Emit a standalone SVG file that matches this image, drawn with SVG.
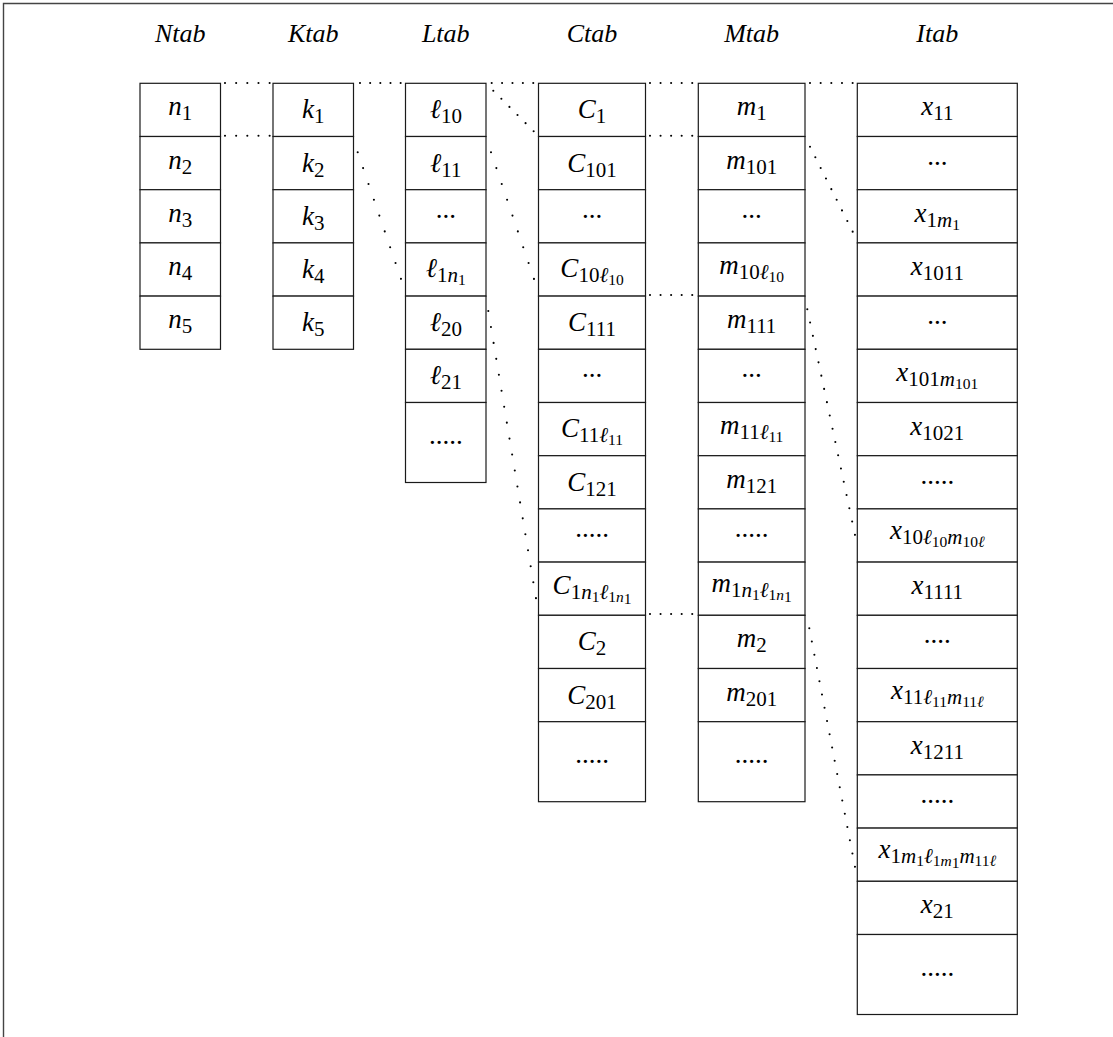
<svg xmlns="http://www.w3.org/2000/svg" width="1113" height="1037" viewBox="0 0 1113 1037">
<style>
.cell{fill:#fff;stroke:#1a1a1a;stroke-width:1.2}
.lb{font-family:"Liberation Serif","DejaVu Serif",serif;font-size:27px;font-style:italic;text-anchor:middle;fill:#000}
.dt{font-family:"Liberation Serif","DejaVu Serif",serif;font-size:27px;text-anchor:middle;fill:#000}
.hd{font-family:"Liberation Serif","DejaVu Serif",serif;font-size:26px;font-style:italic;text-anchor:middle;fill:#000}
.d{font-style:normal}
.s1{font-size:21px}
.s2{font-size:15.5px}
.dots{fill:none;stroke:#000;stroke-width:2.1;stroke-linecap:round}
.frame{stroke:#444;stroke-width:1.4;fill:none}
</style>
<rect width="1113" height="1037" fill="#fff"/>
<path class="frame" d="M3.5,1037 V3.5 H1113"/>
<g id="headers">
<text class="hd" x="180.25" y="42">Ntab</text>
<text class="hd" x="313.25" y="42">Ktab</text>
<text class="hd" x="445.75" y="42">Ltab</text>
<text class="hd" x="592" y="42">Ctab</text>
<text class="hd" x="751.65" y="42">Mtab</text>
<text class="hd" x="937.3" y="42">Itab</text>
</g>
<g id="Ntab">
<g id="n1"><rect class="cell" x="140" y="83.3" width="80.5" height="53.2"/><text class="lb" x="180.25" y="115.3">n<tspan class="d s1" dy="5">1</tspan></text></g>
<g id="n2"><rect class="cell" x="140" y="136.5" width="80.5" height="53.2"/><text class="lb" x="180.25" y="168.5">n<tspan class="d s1" dy="5">2</tspan></text></g>
<g id="n3"><rect class="cell" x="140" y="189.7" width="80.5" height="53.2"/><text class="lb" x="180.25" y="221.7">n<tspan class="d s1" dy="5">3</tspan></text></g>
<g id="n4"><rect class="cell" x="140" y="242.9" width="80.5" height="53.2"/><text class="lb" x="180.25" y="274.9">n<tspan class="d s1" dy="5">4</tspan></text></g>
<g id="n5"><rect class="cell" x="140" y="296.1" width="80.5" height="53.2"/><text class="lb" x="180.25" y="328.1">n<tspan class="d s1" dy="5">5</tspan></text></g>
</g>
<g id="Ktab">
<g id="k1"><rect class="cell" x="273" y="83.3" width="80.5" height="53.2"/><text class="lb" x="313.25" y="118.3">k<tspan class="d s1" dy="5">1</tspan></text></g>
<g id="k2"><rect class="cell" x="273" y="136.5" width="80.5" height="53.2"/><text class="lb" x="313.25" y="171.5">k<tspan class="d s1" dy="5">2</tspan></text></g>
<g id="k3"><rect class="cell" x="273" y="189.7" width="80.5" height="53.2"/><text class="lb" x="313.25" y="224.7">k<tspan class="d s1" dy="5">3</tspan></text></g>
<g id="k4"><rect class="cell" x="273" y="242.9" width="80.5" height="53.2"/><text class="lb" x="313.25" y="277.9">k<tspan class="d s1" dy="5">4</tspan></text></g>
<g id="k5"><rect class="cell" x="273" y="296.1" width="80.5" height="53.2"/><text class="lb" x="313.25" y="331.1">k<tspan class="d s1" dy="5">5</tspan></text></g>
</g>
<g id="Ltab">
<g id="l10"><rect class="cell" x="405.5" y="83.3" width="80.5" height="53.2"/><text class="lb" x="445.75" y="118.3">ℓ<tspan class="d s1" dy="5">10</tspan></text></g>
<g id="l11"><rect class="cell" x="405.5" y="136.5" width="80.5" height="53.2"/><text class="lb" x="445.75" y="171.5">ℓ<tspan class="d s1" dy="5">11</tspan></text></g>
<g id="l-dots1"><rect class="cell" x="405.5" y="189.7" width="80.5" height="53.2"/><text class="dt" x="445.75" y="217.7">...</text></g>
<g id="l1n1"><rect class="cell" x="405.5" y="242.9" width="80.5" height="53.2"/><text class="lb" x="445.75" y="276.9">ℓ<tspan class="d s1" dy="5">1</tspan><tspan class="s1">n</tspan><tspan class="d s2" dy="3">1</tspan></text></g>
<g id="l20"><rect class="cell" x="405.5" y="296.1" width="80.5" height="53.2"/><text class="lb" x="445.75" y="331.1">ℓ<tspan class="d s1" dy="5">20</tspan></text></g>
<g id="l21"><rect class="cell" x="405.5" y="349.3" width="80.5" height="53.2"/><text class="lb" x="445.75" y="384.3">ℓ<tspan class="d s1" dy="5">21</tspan></text></g>
<g id="l-dots2"><rect class="cell" x="405.5" y="402.5" width="80.5" height="80"/><text class="dt" x="445.75" y="444">.....</text></g>
</g>
<g id="Ctab">
<g id="c1"><rect class="cell" x="538.5" y="83.3" width="107" height="53.2"/><text class="lb" x="592" y="118.3">C<tspan class="d s1" dy="5">1</tspan></text></g>
<g id="c101"><rect class="cell" x="538.5" y="136.5" width="107" height="53.2"/><text class="lb" x="592" y="171.5">C<tspan class="d s1" dy="5">101</tspan></text></g>
<g id="c-dots1"><rect class="cell" x="538.5" y="189.7" width="107" height="53.2"/><text class="dt" x="592" y="217.7">...</text></g>
<g id="c10l10"><rect class="cell" x="538.5" y="242.9" width="107" height="53.2"/><text class="lb" x="592" y="276.9">C<tspan class="d s1" dy="5">10</tspan><tspan class="s1">ℓ</tspan><tspan class="d s2" dy="3">10</tspan></text></g>
<g id="c111"><rect class="cell" x="538.5" y="296.1" width="107" height="53.2"/><text class="lb" x="592" y="331.1">C<tspan class="d s1" dy="5">111</tspan></text></g>
<g id="c-dots2"><rect class="cell" x="538.5" y="349.3" width="107" height="53.2"/><text class="dt" x="592" y="377.3">...</text></g>
<g id="c11l11"><rect class="cell" x="538.5" y="402.5" width="107" height="53.2"/><text class="lb" x="592" y="436.5">C<tspan class="d s1" dy="5">11</tspan><tspan class="s1">ℓ</tspan><tspan class="d s2" dy="3">11</tspan></text></g>
<g id="c121"><rect class="cell" x="538.5" y="455.7" width="107" height="53.2"/><text class="lb" x="592" y="490.7">C<tspan class="d s1" dy="5">121</tspan></text></g>
<g id="c-dots3"><rect class="cell" x="538.5" y="508.9" width="107" height="53.2"/><text class="dt" x="592" y="536.9">.....</text></g>
<g id="c1n1l1n1"><rect class="cell" x="538.5" y="562.1" width="107" height="53.2"/><text class="lb" x="592" y="594.1">C<tspan class="d s1" dy="5">1</tspan><tspan class="s1">n</tspan><tspan class="d s2" dy="3">1</tspan><tspan class="s1" dy="-3">ℓ</tspan><tspan class="d s2" dy="3">1</tspan><tspan class="s2">n</tspan><tspan class="d s2" dy="2">1</tspan></text></g>
<g id="c2"><rect class="cell" x="538.5" y="615.3" width="107" height="53.2"/><text class="lb" x="592" y="650.3">C<tspan class="d s1" dy="5">2</tspan></text></g>
<g id="c201"><rect class="cell" x="538.5" y="668.5" width="107" height="53.2"/><text class="lb" x="592" y="703.5">C<tspan class="d s1" dy="5">201</tspan></text></g>
<g id="c-dots4"><rect class="cell" x="538.5" y="721.7" width="107" height="80"/><text class="dt" x="592" y="763.2">.....</text></g>
</g>
<g id="Mtab">
<g id="m1"><rect class="cell" x="698.3" y="83.3" width="106.7" height="53.2"/><text class="lb" x="751.65" y="115.3">m<tspan class="d s1" dy="5">1</tspan></text></g>
<g id="m101"><rect class="cell" x="698.3" y="136.5" width="106.7" height="53.2"/><text class="lb" x="751.65" y="168.5">m<tspan class="d s1" dy="5">101</tspan></text></g>
<g id="m-dots1"><rect class="cell" x="698.3" y="189.7" width="106.7" height="53.2"/><text class="dt" x="751.65" y="217.7">...</text></g>
<g id="m10l10"><rect class="cell" x="698.3" y="242.9" width="106.7" height="53.2"/><text class="lb" x="751.65" y="273.9">m<tspan class="d s1" dy="5">10</tspan><tspan class="s1">ℓ</tspan><tspan class="d s2" dy="3">10</tspan></text></g>
<g id="m111"><rect class="cell" x="698.3" y="296.1" width="106.7" height="53.2"/><text class="lb" x="751.65" y="328.1">m<tspan class="d s1" dy="5">111</tspan></text></g>
<g id="m-dots2"><rect class="cell" x="698.3" y="349.3" width="106.7" height="53.2"/><text class="dt" x="751.65" y="377.3">...</text></g>
<g id="m11l11"><rect class="cell" x="698.3" y="402.5" width="106.7" height="53.2"/><text class="lb" x="751.65" y="433.5">m<tspan class="d s1" dy="5">11</tspan><tspan class="s1">ℓ</tspan><tspan class="d s2" dy="3">11</tspan></text></g>
<g id="m121"><rect class="cell" x="698.3" y="455.7" width="106.7" height="53.2"/><text class="lb" x="751.65" y="487.7">m<tspan class="d s1" dy="5">121</tspan></text></g>
<g id="m-dots3"><rect class="cell" x="698.3" y="508.9" width="106.7" height="53.2"/><text class="dt" x="751.65" y="536.9">.....</text></g>
<g id="m1n1l1n1"><rect class="cell" x="698.3" y="562.1" width="106.7" height="53.2"/><text class="lb" x="751.65" y="592.1">m<tspan class="d s1" dy="5">1</tspan><tspan class="s1">n</tspan><tspan class="d s2" dy="3">1</tspan><tspan class="s1" dy="-3">ℓ</tspan><tspan class="d s2" dy="3">1</tspan><tspan class="s2">n</tspan><tspan class="d s2" dy="2">1</tspan></text></g>
<g id="m2"><rect class="cell" x="698.3" y="615.3" width="106.7" height="53.2"/><text class="lb" x="751.65" y="647.3">m<tspan class="d s1" dy="5">2</tspan></text></g>
<g id="m201"><rect class="cell" x="698.3" y="668.5" width="106.7" height="53.2"/><text class="lb" x="751.65" y="700.5">m<tspan class="d s1" dy="5">201</tspan></text></g>
<g id="m-dots4"><rect class="cell" x="698.3" y="721.7" width="106.7" height="80"/><text class="dt" x="751.65" y="763.2">.....</text></g>
</g>
<g id="Itab">
<g id="x11"><rect class="cell" x="857.3" y="83.3" width="160" height="53.2"/><text class="lb" x="937.3" y="115.3">x<tspan class="d s1" dy="5">11</tspan></text></g>
<g id="x-dots1"><rect class="cell" x="857.3" y="136.5" width="160" height="53.2"/><text class="dt" x="937.3" y="164.5">...</text></g>
<g id="x1m1"><rect class="cell" x="857.3" y="189.7" width="160" height="53.2"/><text class="lb" x="937.3" y="221.7">x<tspan class="d s1" dy="5">1</tspan><tspan class="s1">m</tspan><tspan class="d s2" dy="3">1</tspan></text></g>
<g id="x1011"><rect class="cell" x="857.3" y="242.9" width="160" height="53.2"/><text class="lb" x="937.3" y="274.9">x<tspan class="d s1" dy="5">1011</tspan></text></g>
<g id="x-dots2"><rect class="cell" x="857.3" y="296.1" width="160" height="53.2"/><text class="dt" x="937.3" y="324.1">...</text></g>
<g id="x101m101"><rect class="cell" x="857.3" y="349.3" width="160" height="53.2"/><text class="lb" x="937.3" y="381.3">x<tspan class="d s1" dy="5">101</tspan><tspan class="s1">m</tspan><tspan class="d s2" dy="3">101</tspan></text></g>
<g id="x1021"><rect class="cell" x="857.3" y="402.5" width="160" height="53.2"/><text class="lb" x="937.3" y="434.5">x<tspan class="d s1" dy="5">1021</tspan></text></g>
<g id="x-dots3"><rect class="cell" x="857.3" y="455.7" width="160" height="53.2"/><text class="dt" x="937.3" y="483.7">.....</text></g>
<g id="x10l10m10l"><rect class="cell" x="857.3" y="508.9" width="160" height="53.2"/><text class="lb" x="937.3" y="538.9">x<tspan class="d s1" dy="5">10</tspan><tspan class="s1">ℓ</tspan><tspan class="d s2" dy="3">10</tspan><tspan class="s1" dy="-3">m</tspan><tspan class="d s2" dy="3">10</tspan><tspan class="s2">ℓ</tspan></text></g>
<g id="x1111"><rect class="cell" x="857.3" y="562.1" width="160" height="53.2"/><text class="lb" x="937.3" y="594.1">x<tspan class="d s1" dy="5">1111</tspan></text></g>
<g id="x-dots4"><rect class="cell" x="857.3" y="615.3" width="160" height="53.2"/><text class="dt" x="937.3" y="643.3">....</text></g>
<g id="x11l11m11l"><rect class="cell" x="857.3" y="668.5" width="160" height="53.2"/><text class="lb" x="937.3" y="698.5">x<tspan class="d s1" dy="5">11</tspan><tspan class="s1">ℓ</tspan><tspan class="d s2" dy="3">11</tspan><tspan class="s1" dy="-3">m</tspan><tspan class="d s2" dy="3">11</tspan><tspan class="s2">ℓ</tspan></text></g>
<g id="x1211"><rect class="cell" x="857.3" y="721.7" width="160" height="53.2"/><text class="lb" x="937.3" y="753.7">x<tspan class="d s1" dy="5">1211</tspan></text></g>
<g id="x-dots5"><rect class="cell" x="857.3" y="774.9" width="160" height="53.2"/><text class="dt" x="937.3" y="802.9">.....</text></g>
<g id="x1m1l1m1m11l"><rect class="cell" x="857.3" y="828.1" width="160" height="53.2"/><text class="lb" x="937.3" y="858.1">x<tspan class="d s1" dy="5">1</tspan><tspan class="s1">m</tspan><tspan class="d s2" dy="3">1</tspan><tspan class="s1" dy="-3">ℓ</tspan><tspan class="d s2" dy="3">1</tspan><tspan class="s2">m</tspan><tspan class="d s2" dy="2">1</tspan><tspan class="s1" dy="-5">m</tspan><tspan class="d s2" dy="3">11</tspan><tspan class="s2">ℓ</tspan></text></g>
<g id="x21"><rect class="cell" x="857.3" y="881.3" width="160" height="53.2"/><text class="lb" x="937.3" y="913.3">x<tspan class="d s1" dy="5">21</tspan></text></g>
<g id="x-dots6"><rect class="cell" x="857.3" y="934.5" width="160" height="80"/><text class="dt" x="937.3" y="976">.....</text></g>
</g>
<g id="connectors">
<line class="dots" x1="225" y1="83" x2="269.7" y2="83" stroke-dasharray="0 11.16"/>
<line class="dots" x1="225" y1="135.7" x2="269.7" y2="135.7" stroke-dasharray="0 11.16"/>
<line class="dots" x1="360" y1="83" x2="400.7" y2="83" stroke-dasharray="0 10.16"/>
<line class="dots" x1="357.7" y1="152.3" x2="401" y2="279" stroke-dasharray="0 16.72"/>
<line class="dots" x1="491.7" y1="83" x2="533.3" y2="83" stroke-dasharray="0 10.39"/>
<line class="dots" x1="493.3" y1="90.7" x2="533.7" y2="131.3" stroke-dasharray="0 11.44"/>
<line class="dots" x1="491" y1="152.3" x2="534" y2="279" stroke-dasharray="0 16.71"/>
<line class="dots" x1="488.3" y1="311" x2="536" y2="598.3" stroke-dasharray="0 16.17"/>
<line class="dots" x1="650" y1="83" x2="692.3" y2="83" stroke-dasharray="0 10.56"/>
<line class="dots" x1="650" y1="135.7" x2="692.3" y2="135.7" stroke-dasharray="0 10.56"/>
<line class="dots" x1="650" y1="295" x2="692.3" y2="295" stroke-dasharray="0 10.56"/>
<line class="dots" x1="650" y1="614" x2="692.3" y2="614" stroke-dasharray="0 10.56"/>
<line class="dots" x1="810" y1="83" x2="852.7" y2="83" stroke-dasharray="0 10.66"/>
<line class="dots" x1="810" y1="146.7" x2="852.7" y2="231.7" stroke-dasharray="0 11.88"/>
<line class="dots" x1="807.3" y1="309.3" x2="855" y2="535" stroke-dasharray="0 13.56"/>
<line class="dots" x1="809.3" y1="628.3" x2="855" y2="867" stroke-dasharray="0 13.49"/>
</g>
</svg>
